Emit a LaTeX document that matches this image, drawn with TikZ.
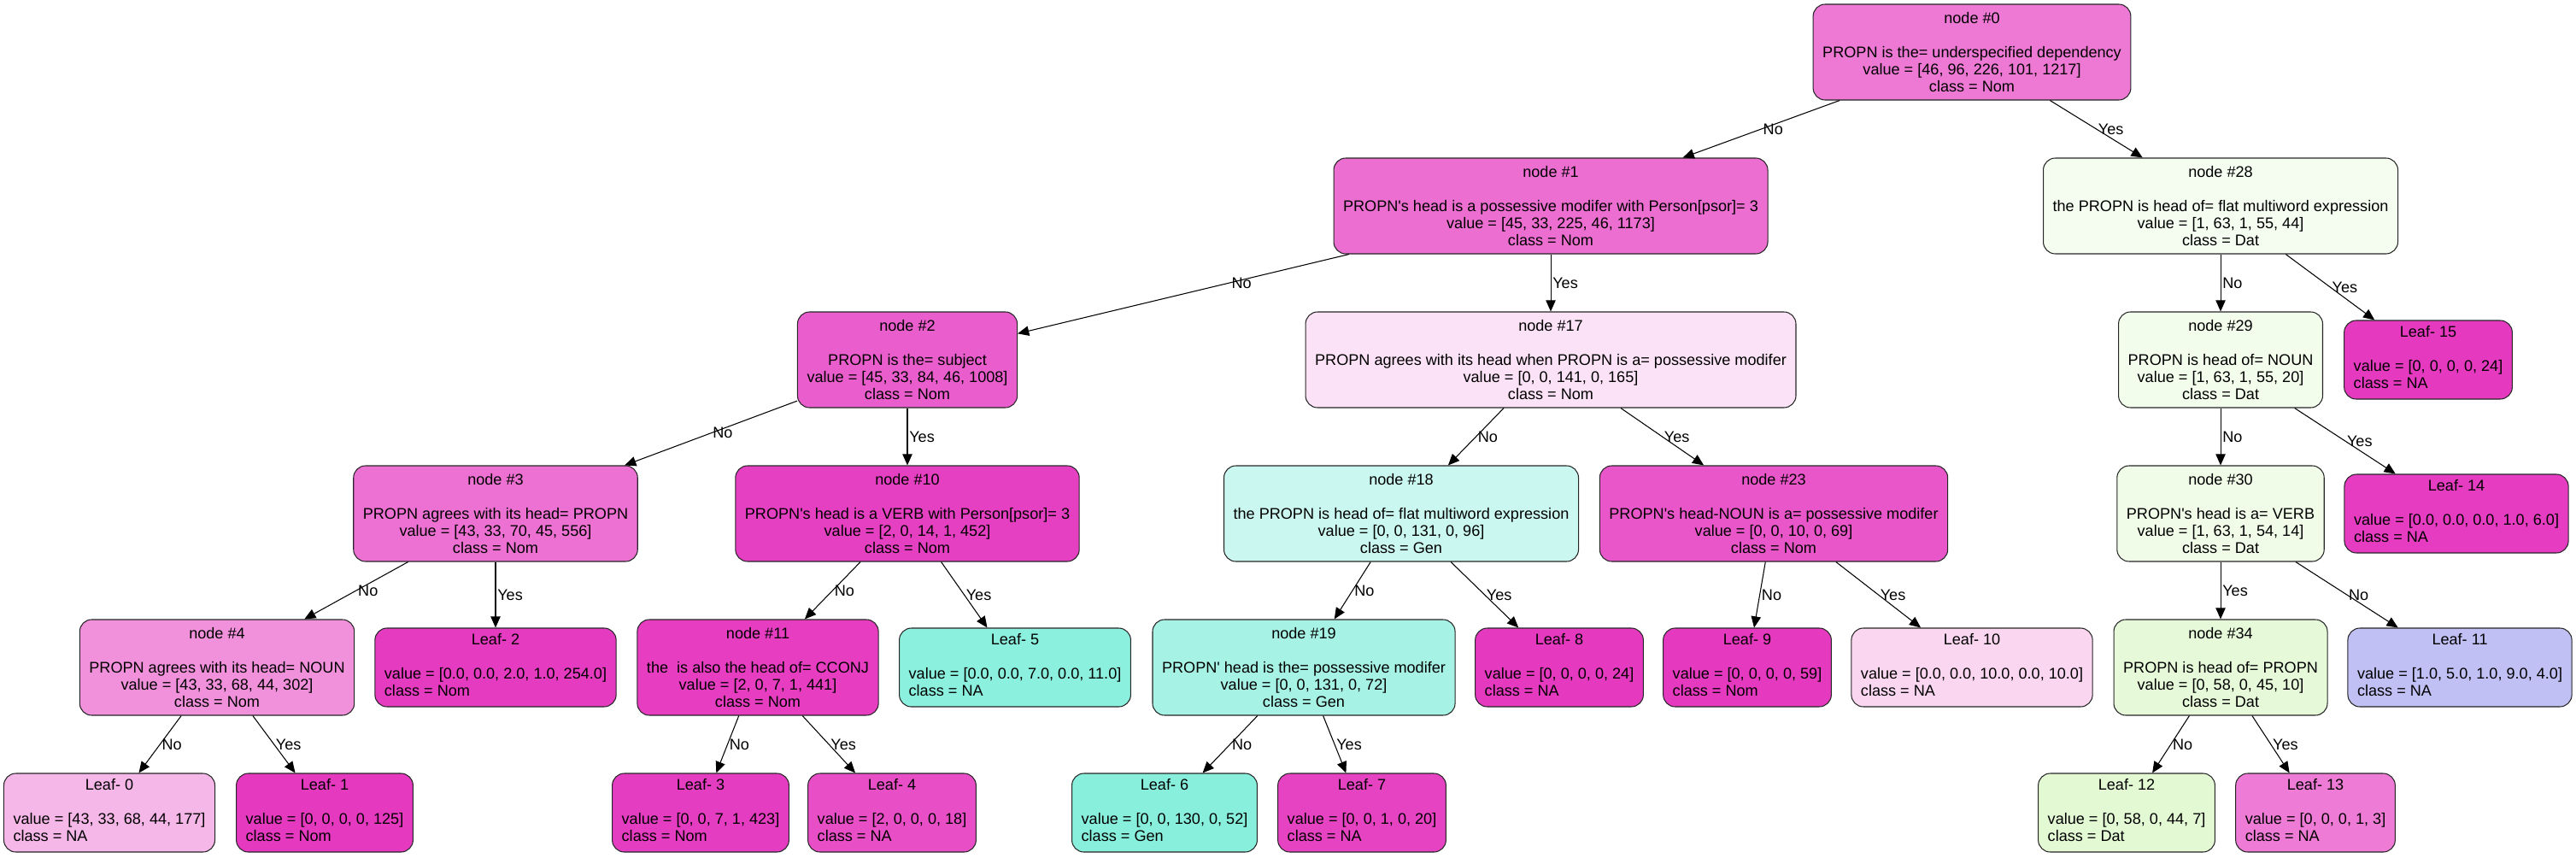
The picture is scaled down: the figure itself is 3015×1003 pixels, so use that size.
\documentclass[tikz,border=0pt]{standalone}
\usepackage{fontspec}
\setmainfont{Liberation Sans}
\usetikzlibrary{arrows.meta}

% fills of the split nodes
\definecolor{c0}{RGB}{237,121,212}
\definecolor{c1}{RGB}{236,110,209}
\definecolor{c2}{RGB}{234,93,204}
\definecolor{c3}{RGB}{236,113,210}
\definecolor{c4}{RGB}{241,145,220}
\definecolor{c10}{RGB}{230,64,194}
\definecolor{c11}{RGB}{230,61,193}
\definecolor{c17}{RGB}{251,226,246}
\definecolor{c18}{RGB}{202,248,240}
\definecolor{c19}{RGB}{166,243,229}
\definecolor{c23}{RGB}{233,86,201}
\definecolor{c28}{RGB}{245,253,240}
\definecolor{c29}{RGB}{243,253,236}
\definecolor{c30}{RGB}{240,252,232}
\definecolor{c34}{RGB}{230,250,217}
% fills of the leaves
\definecolor{cl0}{RGB}{245,182,232}
\definecolor{cl1}{RGB}{229,57,192}
\definecolor{cl2}{RGB}{229,59,193}
\definecolor{cl3}{RGB}{229,61,193}
\definecolor{cl4}{RGB}{232,79,199}
\definecolor{cl5}{RGB}{140,240,222}
\definecolor{cl6}{RGB}{136,239,220}
\definecolor{cl7}{RGB}{230,67,195}
\definecolor{cl8}{RGB}{229,57,192}
\definecolor{cl9}{RGB}{229,57,192}
\definecolor{cl10}{RGB}{250,214,241}
\definecolor{cl11}{RGB}{192,192,245}
\definecolor{cl12}{RGB}{227,249,212}
\definecolor{cl13}{RGB}{238,123,213}
\definecolor{cl14}{RGB}{230,60,193}
\definecolor{cl15}{RGB}{229,57,192}

\newcommand{\leafrows}[2]{\begin{tabular}[t]{@{}l@{}}#1\\#2\end{tabular}}

\begin{document}
\begin{tikzpicture}[x=0.2mm,y=-0.2mm,>={Triangle[length=7.5pt,width=6.5pt]},
    decision/.style={draw=black!85,line width=0.6pt,rounded corners=8pt,align=center,
      inner xsep=6.3pt,inner ysep=2pt,minimum height=2.24cm,font=\fontsize{10.3}{11.4}\selectfont},
    leaf/.style={decision,minimum height=1.84cm},
    lbl/.style={right,inner sep=1pt,font=\fontsize{10.3}{11.4}\selectfont}]
  \useasboundingbox (0,0) rectangle (3015,1003);

  % Level 0 and 1
  \node (n0) [decision,fill=c0] at (2308,61) {node \#0\\[11.4pt]PROPN is the= underspecified dependency\\value = [46, 96, 226, 101, 1217]\\class = Nom};
  \node (n1) [decision,fill=c1] at (1815,241) {node \#1\\[11.4pt]PROPN\textquotesingle s head is a possessive modifer with Person[psor]= 3\\value = [45, 33, 225, 46, 1173]\\class = Nom};
  \node (n28) [decision,fill=c28] at (2599,241) {node \#28\\[11.4pt]the PROPN is head of= flat multiword expression\\value = [1, 63, 1, 55, 44]\\class = Dat};

  % Level 2
  \node (n2) [decision,fill=c2] at (1062,421) {node \#2\\[11.4pt]PROPN is the= subject\\value = [45, 33, 84, 46, 1008]\\class = Nom};
  \node (n17) [decision,fill=c17] at (1815,421) {node \#17\\[11.4pt]PROPN agrees with its head when PROPN is a= possessive modifer\\value = [0, 0, 141, 0, 165]\\class = Nom};
  \node (n29) [decision,fill=c29] at (2599,421) {node \#29\\[11.4pt]PROPN is head of= NOUN\\value = [1, 63, 1, 55, 20]\\class = Dat};
  \node (l15) [leaf,fill=cl15] at (2842,421) {Leaf- 15\\[11.4pt]\leafrows{value = [0, 0, 0, 0, 24]}{class = NA}};

  % Level 3
  \node (n3) [decision,fill=c3] at (580,601) {node \#3\\[11.4pt]PROPN agrees with its head= PROPN\\value = [43, 33, 70, 45, 556]\\class = Nom};
  \node (n10) [decision,fill=c10] at (1062,601) {node \#10\\[11.4pt]PROPN\textquotesingle s head is a VERB with Person[psor]= 3\\value = [2, 0, 14, 1, 452]\\class = Nom};
  \node (n18) [decision,fill=c18] at (1640,601) {node \#18\\[11.4pt]the PROPN is head of= flat multiword expression\\value = [0, 0, 131, 0, 96]\\class = Gen};
  \node (n23) [decision,fill=c23] at (2076,601) {node \#23\\[11.4pt]PROPN\textquotesingle s head-NOUN is a= possessive modifer\\value = [0, 0, 10, 0, 69]\\class = Nom};
  \node (n30) [decision,fill=c30] at (2599,601) {node \#30\\[11.4pt]PROPN\textquotesingle s head is a= VERB\\value = [1, 63, 1, 54, 14]\\class = Dat};
  \node (l14) [leaf,fill=cl14] at (2875,601) {Leaf- 14\\[11.4pt]\leafrows{value = [0.0, 0.0, 0.0, 1.0, 6.0]}{class = NA}};

  % Level 4
  \node (n4) [decision,fill=c4] at (254,781) {node \#4\\[11.4pt]PROPN agrees with its head= NOUN\\value = [43, 33, 68, 44, 302]\\class = Nom};
  \node (l2) [leaf,fill=cl2] at (580,781) {Leaf- 2\\[11.4pt]\leafrows{value = [0.0, 0.0, 2.0, 1.0, 254.0]}{class = Nom}};
  \node (n11) [decision,fill=c11] at (887,781) {node \#11\\[11.4pt]the\ \ is also the head of= CCONJ\\value = [2, 0, 7, 1, 441]\\class = Nom};
  \node (l5) [leaf,fill=cl5] at (1188,781) {Leaf- 5\\[11.4pt]\leafrows{value = [0.0, 0.0, 7.0, 0.0, 11.0]}{class = NA}};
  \node (n19) [decision,fill=c19] at (1526,781) {node \#19\\[11.4pt]PROPN\textquotesingle{} head is the= possessive modifer\\value = [0, 0, 131, 0, 72]\\class = Gen};
  \node (l8) [leaf,fill=cl8] at (1825,781) {Leaf- 8\\[11.4pt]\leafrows{value = [0, 0, 0, 0, 24]}{class = NA}};
  \node (l9) [leaf,fill=cl9] at (2045,781) {Leaf- 9\\[11.4pt]\leafrows{value = [0, 0, 0, 0, 59]}{class = Nom}};
  \node (l10) [leaf,fill=cl10] at (2308,781) {Leaf- 10\\[11.4pt]\leafrows{value = [0.0, 0.0, 10.0, 0.0, 10.0]}{class = NA}};
  \node (n34) [decision,fill=c34] at (2599,781) {node \#34\\[11.4pt]PROPN is head of= PROPN\\value = [0, 58, 0, 45, 10]\\class = Dat};
  \node (l11) [leaf,fill=cl11] at (2879,781) {Leaf- 11\\[11.4pt]\leafrows{value = [1.0, 5.0, 1.0, 9.0, 4.0]}{class = NA}};

  % Level 5
  \node (l0) [leaf,fill=cl0] at (128,951) {Leaf- 0\\[11.4pt]\leafrows{value = [43, 33, 68, 44, 177]}{class = NA}};
  \node (l1) [leaf,fill=cl1] at (380,951) {Leaf- 1\\[11.4pt]\leafrows{value = [0, 0, 0, 0, 125]}{class = Nom}};
  \node (l3) [leaf,fill=cl3] at (820,951) {Leaf- 3\\[11.4pt]\leafrows{value = [0, 0, 7, 1, 423]}{class = Nom}};
  \node (l4) [leaf,fill=cl4] at (1044,951) {Leaf- 4\\[11.4pt]\leafrows{value = [2, 0, 0, 0, 18]}{class = NA}};
  \node (l6) [leaf,fill=cl6] at (1363,951) {Leaf- 6\\[11.4pt]\leafrows{value = [0, 0, 130, 0, 52]}{class = Gen}};
  \node (l7) [leaf,fill=cl7] at (1594,951) {Leaf- 7\\[11.4pt]\leafrows{value = [0, 0, 1, 0, 20]}{class = NA}};
  \node (l12) [leaf,fill=cl12] at (2489,951) {Leaf- 12\\[11.4pt]\leafrows{value = [0, 58, 0, 44, 7]}{class = Dat}};
  \node (l13) [leaf,fill=cl13] at (2710,951) {Leaf- 13\\[11.4pt]\leafrows{value = [0, 0, 0, 1, 3]}{class = NA}};

  % Branches with their answers
  \foreach \a/\b/\ans/\p in {
    n0/n1/No/0.5, n0/n28/Yes/0.5,
    n1/n2/No/0.36, n1/n17/Yes/0.5,
    n2/n3/No/0.5, n2/n10/Yes/0.5,
    n3/n4/No/0.5, n3/l2/Yes/0.5,
    n4/l0/No/0.5, n4/l1/Yes/0.5,
    n10/n11/No/0.5, n10/l5/Yes/0.5,
    n11/l3/No/0.5, n11/l4/Yes/0.5,
    n17/n18/No/0.5, n17/n23/Yes/0.5,
    n18/n19/No/0.5, n18/l8/Yes/0.5,
    n19/l6/No/0.5, n19/l7/Yes/0.5,
    n23/l9/No/0.5, n23/l10/Yes/0.5,
    n28/n29/No/0.5, n28/l15/Yes/0.5,
    n29/n30/No/0.5, n29/l14/Yes/0.5,
    n30/n34/Yes/0.5, n30/l11/No/0.5,
    n34/l12/No/0.5, n34/l13/Yes/0.5} {
    \draw [->,line width=0.6pt] (\a) -- node [lbl,pos=\p] {\ans} (\b);
  }
\end{tikzpicture}
\end{document}
